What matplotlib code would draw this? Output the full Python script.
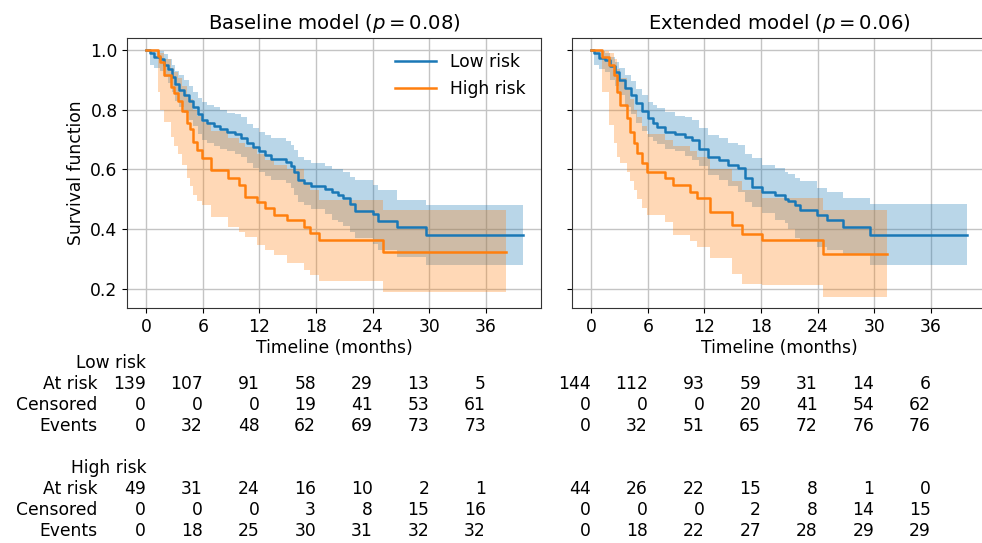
import matplotlib
matplotlib.use('Agg')
import matplotlib.pyplot as plt
from matplotlib.transforms import blended_transform_factory

plt.rcParams['font.family'] = ['DejaVu Sans']
plt.rcParams['font.size'] = 12.3

# ---------------- data ----------------
titles = [r'Baseline model ($p = 0.08$)', r'Extended model ($p = 0.06$)']
group_names = ['Low risk', 'High risk']
row_names = ['At risk', 'Censored', 'Events']
xticks = [0, 6, 12, 18, 24, 30, 36]
yticks = [0.2, 0.4, 0.6, 0.8, 1.0]

# Baseline model, low risk
b_low_t = [0, 0.4, 0.8, 1.5, 1.9, 2.3, 2.7, 3.1, 3.5, 4.0, 4.5, 5.0, 5.5, 5.9, 6.4, 7.2, 7.8, 8.6,
           9.4, 10.0, 10.7, 11.3, 12.0, 12.6, 13.2, 14.8, 15.3, 15.7, 16.1, 16.7, 17.5, 18.9, 19.7,
           20.3, 20.9, 21.6, 22.1, 24.0, 24.6, 26.6, 29.6, 39.9]
b_low_s = [1.0, 0.989, 0.978, 0.971, 0.950, 0.935, 0.910, 0.885, 0.866, 0.850, 0.830, 0.810, 0.785,
           0.765, 0.755, 0.745, 0.735, 0.725, 0.718, 0.705, 0.688, 0.675, 0.660, 0.648, 0.635, 0.625,
           0.610, 0.592, 0.565, 0.555, 0.545, 0.535, 0.525, 0.515, 0.503, 0.485, 0.462, 0.450, 0.427,
           0.408, 0.380, 0.380]
b_low_lo = [1.0, 0.95, 0.94, 0.93, 0.91, 0.89, 0.86, 0.83, 0.81, 0.79, 0.765, 0.745, 0.72, 0.70, 0.69,
            0.68, 0.67, 0.66, 0.652, 0.64, 0.62, 0.605, 0.59, 0.578, 0.563, 0.553, 0.537, 0.515, 0.49,
            0.48, 0.468, 0.45, 0.43, 0.425, 0.41, 0.39, 0.369, 0.35, 0.33, 0.307, 0.279, 0.279]
b_low_hi = [1.0, 1.0, 1.0, 0.995, 0.985, 0.97, 0.95, 0.93, 0.915, 0.90, 0.88, 0.86, 0.84, 0.825, 0.815,
            0.81, 0.80, 0.79, 0.785, 0.775, 0.752, 0.74, 0.726, 0.714, 0.704, 0.695, 0.682, 0.665, 0.64,
            0.63, 0.62, 0.61, 0.60, 0.60, 0.59, 0.576, 0.565, 0.548, 0.531, 0.497, 0.480, 0.480]

# Baseline model, high risk
b_high_t = [0, 1.2, 1.5, 1.9, 2.6, 3.0, 3.4, 3.8, 4.3, 4.6, 5.0, 5.4, 5.9, 6.85, 8.7, 9.8, 10.5, 11.7,
            12.6, 13.5, 14.9, 16.7, 17.4, 18.3, 25.1, 38.1]
b_high_s = [1.0, 0.98, 0.96, 0.916, 0.875, 0.855, 0.83, 0.794, 0.755, 0.735, 0.693, 0.665, 0.637, 0.598,
            0.571, 0.548, 0.508, 0.490, 0.470, 0.447, 0.430, 0.408, 0.386, 0.364, 0.324, 0.324]
b_high_lo = [1.0, 0.86, 0.80, 0.76, 0.71, 0.68, 0.65, 0.615, 0.57, 0.545, 0.514, 0.495, 0.481, 0.442,
             0.408, 0.39, 0.375, 0.347, 0.33, 0.314, 0.286, 0.262, 0.246, 0.226, 0.188, 0.188]
b_high_hi = [1.0, 0.997, 0.99, 0.97, 0.94, 0.925, 0.905, 0.88, 0.85, 0.835, 0.80, 0.78, 0.76, 0.73,
             0.705, 0.69, 0.675, 0.65, 0.63, 0.615, 0.60, 0.55, 0.53, 0.497, 0.464, 0.464]

# Extended model, low risk
e_low_t = [0, 0.35, 0.78, 1.5, 2.0, 2.5, 3.0, 3.6, 4.2, 4.8, 5.4, 6.07, 6.5, 6.96, 7.84, 8.9, 9.96, 10.7,
           11.4, 12.4, 13.5, 14.5, 15.6, 16.3, 17.0, 18.1, 19.5, 20.5, 20.9, 21.6, 22.1, 23.9, 25.0,
           26.7, 29.6, 39.8]
e_low_s = [1.0, 0.989, 0.974, 0.966, 0.945, 0.927, 0.900, 0.871, 0.850, 0.821, 0.795, 0.771, 0.755,
           0.743, 0.726, 0.717, 0.710, 0.698, 0.670, 0.643, 0.632, 0.615, 0.604, 0.570, 0.542, 0.525,
           0.514, 0.501, 0.495, 0.481, 0.464, 0.447, 0.430, 0.408, 0.380, 0.380]
e_low_lo = [1.0, 0.95, 0.935, 0.925, 0.90, 0.88, 0.85, 0.81, 0.785, 0.755, 0.73, 0.71, 0.695, 0.685,
            0.67, 0.66, 0.645, 0.63, 0.61, 0.58, 0.565, 0.545, 0.525, 0.49, 0.475, 0.455, 0.43, 0.42,
            0.40, 0.369, 0.36, 0.34, 0.330, 0.313, 0.279, 0.279]
e_low_hi = [1.0, 1.0, 0.995, 0.99, 0.975, 0.96, 0.94, 0.915, 0.895, 0.87, 0.85, 0.827, 0.815, 0.805,
            0.792, 0.78, 0.775, 0.765, 0.74, 0.715, 0.704, 0.69, 0.682, 0.65, 0.637, 0.615, 0.604,
            0.592, 0.585, 0.570, 0.56, 0.537, 0.525, 0.503, 0.483, 0.483]

# Extended model, high risk
e_high_t = [0, 1.2, 1.84, 2.37, 2.72, 3.07, 3.78, 4.13, 4.49, 4.84, 5.37, 5.9, 7.84, 8.72, 10.5, 11.2,
            12.6, 14.9, 15.96, 18.1, 24.6, 31.3]
e_high_s = [1.0, 0.977, 0.95, 0.916, 0.86, 0.816, 0.771, 0.726, 0.687, 0.654, 0.620, 0.592, 0.570,
            0.548, 0.525, 0.503, 0.458, 0.414, 0.383, 0.364, 0.316, 0.316]
e_high_lo = [1.0, 0.86, 0.75, 0.69, 0.64, 0.62, 0.59, 0.56, 0.53, 0.50, 0.47, 0.447, 0.425, 0.38,
             0.36, 0.341, 0.302, 0.25, 0.218, 0.213, 0.174, 0.174]
e_high_hi = [1.0, 0.997, 0.99, 0.97, 0.935, 0.905, 0.87, 0.835, 0.80, 0.775, 0.745, 0.72, 0.70, 0.68,
             0.66, 0.64, 0.60, 0.56, 0.53, 0.503, 0.464, 0.464]

# At-risk tables (rows: At risk, Censored, Events) at xticks
b_low_table = [[139, 107, 91, 58, 29, 13, 5],
               [0, 0, 0, 19, 41, 53, 61],
               [0, 32, 48, 62, 69, 73, 73]]
b_high_table = [[49, 31, 24, 16, 10, 2, 1],
                [0, 0, 0, 3, 8, 15, 16],
                [0, 18, 25, 30, 31, 32, 32]]
e_low_table = [[144, 112, 93, 59, 31, 14, 6],
               [0, 0, 0, 20, 41, 54, 62],
               [0, 32, 51, 65, 72, 76, 76]]
e_high_table = [[44, 26, 22, 15, 8, 1, 0],
                [0, 0, 0, 2, 8, 14, 15],
                [0, 18, 22, 27, 28, 29, 29]]

# ---------------- layout ----------------
W, H = 982, 543
C_LOW = '#1a78b6'
C_HIGH = '#ff7f0e'

fig = plt.figure(figsize=(W / 100, H / 100), dpi=100)


def rect(l, t, r, b):
    return [l / W, 1 - b / H, (r - l) / W, (b - t) / H]


ax1 = fig.add_axes(rect(127.3, 37.7, 540.7, 308.3))
ax2 = fig.add_axes(rect(572.3, 37.7, 985.6, 308.3), sharey=ax1)


def draw(ax, t, s, lo, hi, color, label):
    ax.fill_between(t, lo, hi, step='post', color=color, alpha=0.3, lw=0)
    ax.plot(t, s, drawstyle='steps-post', color=color, lw=1.8, label=label)


draw(ax1, b_low_t, b_low_s, b_low_lo, b_low_hi, C_LOW, group_names[0])
draw(ax1, b_high_t, b_high_s, b_high_lo, b_high_hi, C_HIGH, group_names[1])
draw(ax2, e_low_t, e_low_s, e_low_lo, e_low_hi, C_LOW, group_names[0])
draw(ax2, e_high_t, e_high_s, e_high_lo, e_high_hi, C_HIGH, group_names[1])

for ax, title in zip([ax1, ax2], titles):
    ax.set_xlim(-2.0, 41.8)
    ax.set_ylim(0.135, 1.041)
    ax.set_xticks(xticks)
    ax.set_yticks(yticks)
    ax.grid(True, color='#c4c4c4', lw=1.0)
    ax.set_axisbelow(True)
    ax.set_title(title, fontsize=14.1)
    ax.set_xlabel('Timeline (months)', labelpad=2)
    for sp in ax.spines.values():
        sp.set_color('#333333')

ax1.set_ylabel('Survival function')
ax2.tick_params(labelleft=False)
ax1.legend(loc='upper right', frameon=False, handlelength=2.4)

# ---------------- at-risk tables ----------------
row_y_low = [384, 405, 426]
row_y_high = [489, 510, 531]
label_y = [362.7, 467.7]


def fy(ypx):
    return 1 - ypx / H


for ax, tables in [(ax1, [b_low_table, b_high_table]), (ax2, [e_low_table, e_high_table])]:
    tr = blended_transform_factory(ax.transData, fig.transFigure)
    for table, rows_y in zip(tables, [row_y_low, row_y_high]):
        for row, ypx in zip(table, rows_y):
            for x, v in zip(xticks, row):
                ax.text(x, fy(ypx), str(v), transform=tr, ha='right', va='center')

tr1 = blended_transform_factory(ax1.transData, fig.transFigure)
for name, ypx in zip(group_names, label_y):
    ax1.text(0, fy(ypx), name, transform=tr1, ha='right', va='center')
for rows_y in [row_y_low, row_y_high]:
    for name, ypx in zip(row_names, rows_y):
        fig.text(97.3 / W, fy(ypx), name, ha='right', va='center')

fig.savefig('out.png', dpi=100)
